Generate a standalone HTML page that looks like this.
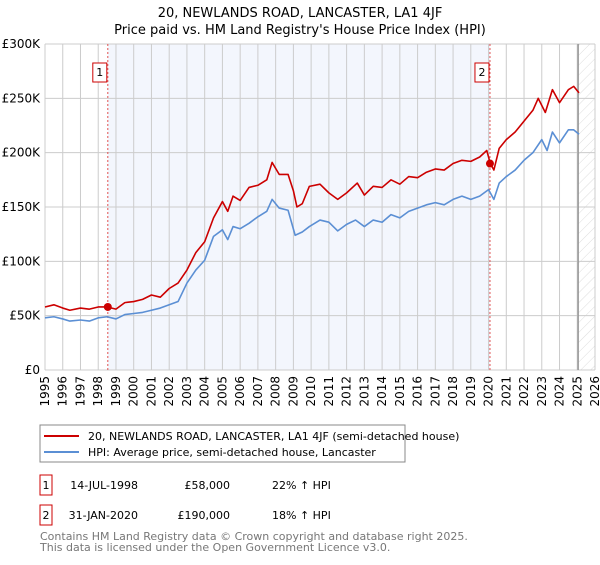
<!DOCTYPE html>
<html><head><meta charset="utf-8"><style>
body{margin:0;background:#fff;font-family:"Liberation Sans","DejaVu Sans",sans-serif;}
svg text{font-family:"DejaVu Sans","Liberation Sans",sans-serif;}
</style></head><body>
<svg id="c" width="600" height="560" xmlns="http://www.w3.org/2000/svg">
<defs><pattern id="hatch" width="7" height="7" patternUnits="userSpaceOnUse" patternTransform="rotate(45)"><line x1="0" y1="0" x2="0" y2="7" stroke="#d4d4d4" stroke-width="0.8"/></pattern></defs>
<text x="300" y="17" text-anchor="middle" font-size="13" fill="#000">20, NEWLANDS ROAD, LANCASTER, LA1 4JF</text>
<text x="300" y="34" text-anchor="middle" font-size="13" fill="#000">Price paid vs. HM Land Registry's House Price Index (HPI)</text>
<g id="plot"></g>
<rect x="40" y="425" width="365" height="37" fill="#fff" stroke="#888"/>
<line x1="44" y1="436" x2="79" y2="436" stroke="#cc0000" stroke-width="2"/>
<text x="88" y="440" font-size="11">20, NEWLANDS ROAD, LANCASTER, LA1 4JF (semi-detached house)</text>
<line x1="44" y1="452" x2="79" y2="452" stroke="#5b8fd4" stroke-width="2"/>
<text x="88" y="456" font-size="11">HPI: Average price, semi-detached house, Lancaster</text>
<g>
<rect x="40" y="475" width="12" height="20" fill="#fff" stroke="#cc0000"/><text x="46" y="489" text-anchor="middle" font-size="11">1</text>
<text x="138" y="489" text-anchor="end" font-size="11">14-JUL-1998</text>
<text x="230" y="489" text-anchor="end" font-size="11">£58,000</text>
<text x="272" y="489" font-size="11">22% ↑ HPI</text></g>
<g>
<rect x="40" y="505" width="12" height="20" fill="#fff" stroke="#cc0000"/><text x="46" y="519" text-anchor="middle" font-size="11">2</text>
<text x="138" y="519" text-anchor="end" font-size="11">31-JAN-2020</text>
<text x="230" y="519" text-anchor="end" font-size="11">£190,000</text>
<text x="272" y="519" font-size="11">18% ↑ HPI</text></g>
<text x="40" y="540" font-size="11" fill="#777">Contains HM Land Registry data © Crown copyright and database right 2025.</text>
<text x="40" y="551" font-size="11" fill="#777">This data is licensed under the Open Government Licence v3.0.</text>
</svg>
<script>
const hpiYears=[1995,1995.5,1996,1996.4,1997,1997.5,1998,1998.5,1999,1999.5,2000,2000.5,2001,2001.5,2002,2002.5,2003,2003.5,2004,2004.5,2005,2005.3,2005.6,2006,2006.5,2007,2007.5,2007.8,2008.2,2008.7,2009.1,2009.5,2009.9,2010.5,2011,2011.5,2012,2012.5,2013,2013.5,2014,2014.5,2015,2015.5,2016,2016.5,2017,2017.5,2018,2018.5,2019,2019.5,2020,2020.3,2020.6,2021,2021.5,2022,2022.5,2023,2023.3,2023.6,2024,2024.5,2024.8,2025.1];
const hpiValues=[48,49,47,45,46,45,48,49,47,51,52,53,55,57,60,63,80,92,101,123,129,120,132,130,135,141,146,157,149,147,124,127,132,138,136,128,134,138,132,138,136,143,140,146,149,152,154,152,157,160,157,160,166,157,172,178,184,193,200,212,202,219,209,221,221,217];
const priceYears=[1995,1995.5,1996,1996.4,1997,1997.5,1998,1998.5,1999,1999.5,2000,2000.5,2001,2001.5,2002,2002.5,2003,2003.5,2004,2004.5,2005,2005.3,2005.6,2006,2006.5,2007,2007.5,2007.8,2008.2,2008.7,2009,2009.2,2009.5,2009.9,2010.5,2011,2011.5,2012,2012.6,2013,2013.5,2014,2014.5,2015,2015.5,2016,2016.5,2017,2017.5,2018,2018.5,2019,2019.5,2019.9,2020.1,2020.3,2020.6,2021,2021.5,2022,2022.5,2022.8,2023.2,2023.6,2024,2024.5,2024.8,2025.1];
const priceValues=[58,60,57,55,57,56,58,58,56,62,63,65,69,67,75,80,92,108,118,140,155,146,160,156,168,170,175,191,180,180,165,150,153,169,171,163,157,163,172,161,169,168,175,171,178,177,182,185,184,190,193,192,196,202,190,184,204,212,219,229,239,250,237,258,246,258,261,255];
const yTicks=[0,50,100,150,200,250,300];
const yTickLabels=["£0","£50K","£100K","£150K","£200K","£250K","£300K"];
const xTicks=[1995,1996,1997,1998,1999,2000,2001,2002,2003,2004,2005,2006,2007,2008,2009,2010,2011,2012,2013,2014,2015,2016,2017,2018,2019,2020,2021,2022,2023,2024,2025,2026];
const saleYears=[1998.54,2020.08];
const saleValues=[58,190];
const saleLabels=["1","2"];
const X0=45,X1=595,Y0=370,Y1=44;
const sx=y=>X0+(y-1995)/(2026-1995)*(X1-X0);
const sy=v=>Y0-v/300*(Y0-Y1);
const NS="http://www.w3.org/2000/svg";
const g=document.getElementById('plot');
function mk(t,a){const e=document.createElementNS(NS,t);for(const k in a)e.setAttribute(k,a[k]);g.appendChild(e);return e;}
let e=mk('rect',{x:sx(saleYears[0]),y:Y1,width:sx(saleYears[1])-sx(saleYears[0]),height:Y0-Y1,fill:'#f3f6fd'});


e=mk('rect',{x:sx(2025.05),y:Y1,width:X1-sx(2025.05),height:Y0-Y1,fill:'url(#hatch)'});


xTicks.forEach(t=>{
 e=mk('line',{x1:sx(t),x2:sx(t),y1:Y1,y2:Y0,stroke:'#ccc','stroke-width':1});
 
 
 e=mk('text',{x:0,y:0,'font-size':12,'text-anchor':'end',transform:`translate(${sx(t)+4},${Y0+6}) rotate(-90)`});
 e.textContent=t;
 
 
});
yTicks.forEach((t,i)=>{
 e=mk('line',{x1:X0,x2:X1,y1:sy(t),y2:sy(t),stroke:'#ccc','stroke-width':1});
 
 
 e=mk('text',{x:X0-5,y:sy(t)+4,'font-size':12,'text-anchor':'end'});
 e.textContent=yTickLabels[i];
 
 
});
e=mk('line',{x1:sx(2025.05),x2:sx(2025.05),y1:Y1,y2:Y0,stroke:'#999','stroke-width':1.5});


saleYears.forEach((s,i)=>{
 e=mk('line',{x1:sx(s),x2:sx(s),y1:Y1,y2:Y0,stroke:'#e05050','stroke-width':1,'stroke-dasharray':'2,2'});
 
 
});
function line(xs,vs,col,name){
 e=mk('polyline',{points:xs.map((x,i)=>sx(x)+','+sy(vs[i])).join(' '),fill:'none',stroke:col,'stroke-width':1.6,'stroke-linejoin':'round'});
 
 
}
line(hpiYears,hpiValues,'#5b8fd4','hpi-line');
line(priceYears,priceValues,'#cc0000','property-price-line');
saleYears.forEach((s,i)=>{
 e=mk('circle',{cx:sx(s),cy:sy(saleValues[i]),r:4,fill:'#cc0000'});
 
 
 e=mk('rect',{x:sx(s)-15,y:63,width:14,height:19,fill:'#fff',stroke:'#cc0000'});
 
 
 e=mk('text',{x:sx(s)-8,y:76,'font-size':11,'text-anchor':'middle'});
 e.textContent=saleLabels[i];
 
 
});
</script>
</body></html>
